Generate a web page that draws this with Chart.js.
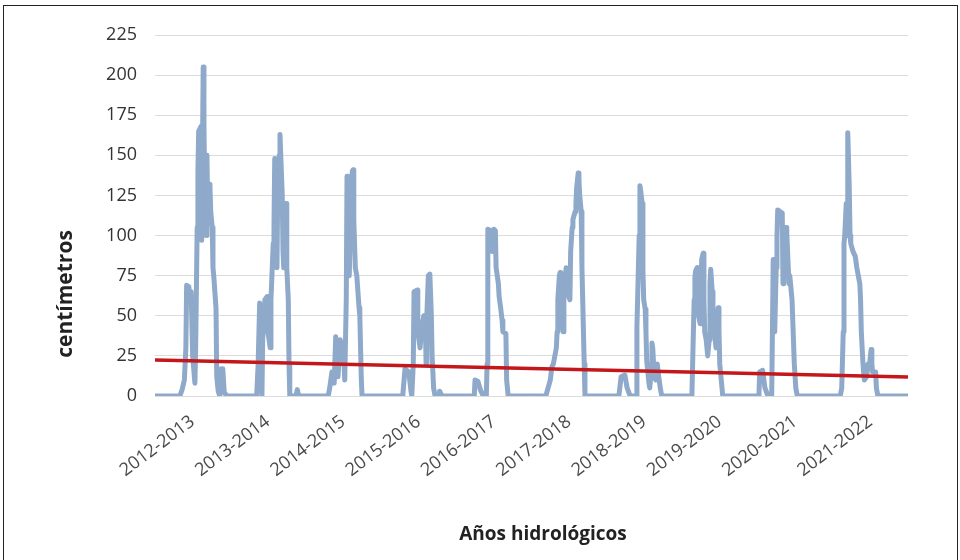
<!DOCTYPE html>
<html>
<head>
<meta charset="utf-8">
<script src="https://cdn.jsdelivr.net/npm/chart.js@4"></script>
<style>
    body { margin: 0; background: #fff; }
    #wrap { position: relative; width: 960px; height: 560px; overflow: hidden; }
    #frame {
        position: absolute; left: 3px; top: 5px; width: 953px; height: 620px;
        border: 1.5px solid #222; pointer-events: none;
    }
</style>
</head>
<body>
<div id="wrap">
    <canvas id="snowChart" width="960" height="560"></canvas>
    <div id="frame"></div>
</div>
<script>
// hydrological years (1 Oct - 30 Sep), one tick in the middle of each
const hydroYears = ['2012-2013', '2013-2014', '2014-2015', '2015-2016', '2016-2017',
    '2017-2018', '2018-2019', '2019-2020', '2020-2021', '2021-2022'];

// time in years since 1 Oct 2012
const depthYears = [
    0, 0.33, 0.36, 0.39, 0.41, 0.42, 0.45, 0.46, 0.48, 0.50, 0.53, 0.54, 0.56, 0.57, 0.58, 0.61, 0.62, 0.64, 0.65, 0.66, 0.68, 0.69, 0.70, 0.72, 0.73, 0.74, 0.76, 0.77, 0.78, 0.81, 0.82, 0.84, 0.86, 0.88, 0.90, 0.92, 0.96,
    1.35, 1.37, 1.39, 1.41, 1.42, 1.43, 1.46, 1.49, 1.50, 1.53, 1.54, 1.57, 1.58, 1.59, 1.61, 1.62, 1.63, 1.65, 1.66, 1.67, 1.69, 1.70, 1.71, 1.73, 1.74, 1.75, 1.77, 1.78, 1.79, 1.87, 1.89, 1.91,
    2.30, 2.32, 2.35, 2.38, 2.40, 2.43, 2.46, 2.48, 2.51, 2.52, 2.54, 2.55, 2.56, 2.58, 2.59, 2.62, 2.63, 2.64, 2.66, 2.68, 2.71, 2.72, 2.74, 2.75,
    3.29, 3.32, 3.37, 3.40, 3.41, 3.43, 3.44, 3.48, 3.49, 3.52, 3.55, 3.57, 3.59, 3.60, 3.61, 3.63, 3.65, 3.67, 3.68, 3.70, 3.72, 3.77, 3.78, 3.81,
    4.24, 4.25, 4.29, 4.32, 4.36, 4.40, 4.41, 4.42, 4.46, 4.48, 4.50, 4.52, 4.53, 4.56, 4.57, 4.59, 4.61, 4.62, 4.66, 4.67, 4.69,
    5.19, 5.22, 5.25, 5.27, 5.29, 5.31, 5.33, 5.34, 5.35, 5.37, 5.38, 5.39, 5.41, 5.42, 5.43, 5.46, 5.47, 5.48, 5.51, 5.52, 5.54, 5.55, 5.58, 5.59, 5.60, 5.62, 5.63, 5.64, 5.66, 5.67, 5.68, 5.70, 5.71,
    6.16, 6.19, 6.24, 6.27, 6.31, 6.39, 6.40, 6.43, 6.44, 6.45, 6.47, 6.48, 6.49, 6.51, 6.52, 6.53, 6.56, 6.57, 6.59, 6.60, 6.61, 6.63, 6.65, 6.67, 6.69, 6.71, 6.73,
    7.13, 7.14, 7.16, 7.17, 7.18, 7.20, 7.21, 7.22, 7.24, 7.25, 7.26, 7.28, 7.29, 7.30, 7.32, 7.33, 7.34, 7.36, 7.37, 7.38, 7.40, 7.41, 7.42, 7.45, 7.46, 7.48, 7.49, 7.50, 7.52, 7.54,
    8.02, 8.03, 8.07, 8.10, 8.14, 8.19, 8.21, 8.22, 8.23, 8.25, 8.26, 8.27, 8.30, 8.33, 8.34, 8.35, 8.38, 8.39, 8.41, 8.42, 8.43, 8.45, 8.46, 8.49, 8.51, 8.53,
    9.10, 9.12, 9.14, 9.15, 9.16, 9.18, 9.19, 9.20, 9.22, 9.23, 9.24, 9.27, 9.30, 9.32, 9.34, 9.36, 9.37, 9.38, 9.40, 9.41, 9.42, 9.45, 9.47, 9.49, 9.51, 9.52, 9.53, 9.57, 9.58, 9.60, 10.00,
];

// snow depth in cm
const depthCm = [
    0, 0, 4, 10, 30, 69, 68, 60, 65, 25, 8, 30, 105, 140, 165, 168, 97, 205, 170, 130, 100, 150, 115, 132, 130, 115, 105, 80, 75, 55, 12, 3, 0, 17, 17, 2, 0,
    0, 20, 58, 30, 0, 35, 60, 62, 40, 30, 60, 95, 105, 148, 120, 80, 130, 150, 163, 150, 125, 90, 80, 110, 120, 80, 60, 20, 0, 0, 4, 0,
    0, 5, 15, 8, 37, 12, 35, 30, 20, 10, 60, 137, 135, 75, 100, 140, 141, 110, 80, 75, 55, 50, 10, 0,
    0, 17, 15, 3, 0, 20, 65, 66, 40, 30, 45, 50, 48, 20, 50, 75, 76, 50, 25, 5, 0, 0, 3, 0,
    0, 10, 9, 4, 0, 0, 20, 104, 103, 90, 104, 103, 80, 70, 62, 55, 47, 40, 39, 10, 0,
    0, 5, 10, 18, 20, 25, 30, 40, 60, 75, 77, 60, 45, 40, 60, 80, 80, 65, 60, 90, 105, 110, 115, 120, 130, 139, 135, 125, 115, 80, 60, 20, 0,
    0, 12, 13, 5, 0, 0, 43, 100, 131, 128, 120, 78, 60, 54, 40, 22, 8, 5, 15, 33, 30, 12, 10, 20, 12, 5, 0,
    0, 20, 60, 74, 78, 80, 60, 50, 45, 60, 85, 89, 60, 40, 35, 30, 25, 35, 70, 79, 65, 50, 45, 30, 50, 55, 40, 20, 10, 0,
    0, 15, 16, 5, 0, 0, 85, 60, 40, 80, 100, 116, 115, 114, 70, 90, 105, 102, 80, 70, 75, 65, 60, 20, 5, 0,
    0, 5, 40, 95, 100, 120, 100, 164, 130, 100, 95, 90, 87, 80, 75, 70, 60, 40, 22, 15, 10, 12, 20, 20, 29, 20, 15, 15, 5, 0, 0,
];

// linear trend, start and end of the record
const trendYears = [0, 10];
const trendCm = [22.4, 11.8];

const yTicks = [0, 25, 50, 75, 100, 125, 150, 175, 200, 225];

const axisTitles = {
    id: 'axisTitles',
    afterDraw(chart) {
        const ctx = chart.ctx;
        ctx.save();
        ctx.fillStyle = '#222';
        ctx.textAlign = 'center';
        ctx.textBaseline = 'middle';
        ctx.font = 'bold 19px "Open Sans"';
        ctx.fillText('Años hidrológicos', 543, 535);
        ctx.translate(66, 294);
        ctx.rotate(-Math.PI / 2);
        ctx.font = 'bold 21px "Open Sans"';
        ctx.fillText('centímetros', 0, 0);
        ctx.restore();
    }
};

const depthPoints = depthYears.map((t, i) => ({ x: t, y: depthCm[i] }));
const trendPoints = trendYears.map((t, i) => ({ x: t, y: trendCm[i] }));

const snowCtx = document.getElementById('snowChart').getContext('2d');

new Chart(snowCtx, {
    type: 'line',
    data: {
        datasets: [
            {
                label: 'Tendencia',
                data: trendPoints,
                borderColor: '#c3171b',
                borderWidth: 3.5,
                pointRadius: 0,
                tension: 0,
            },
            {
                label: 'Espesor de nieve',
                data: depthPoints,
                borderColor: '#8ea9c9',
                borderWidth: 5,
                borderJoinStyle: 'round',
                pointRadius: 0,
                tension: 0,
            },
        ],
    },
    options: {
        responsive: false,
        animation: false,
        layout: {
            padding: { top: 35, right: 52, bottom: 0, left: 0 },
        },
        scales: {
            x: {
                type: 'linear',
                min: 0,
                max: 10,
                afterBuildTicks: (scale) => {
                    scale.ticks = hydroYears.map((_, i) => ({ value: i + 0.5 }));
                },
                afterFit: (scale) => { scale.height = 164; },
                grid: { display: false },
                border: { display: false },
                ticks: {
                    autoSkip: false,
                    minRotation: 37,
                    maxRotation: 37,
                    padding: 7,
                    color: '#4a4a4a',
                    font: { family: 'Open Sans', size: 18 },
                    callback: (value) => hydroYears[Math.floor(value)],
                },
            },
            y: {
                min: 0,
                max: 225,
                afterBuildTicks: (scale) => {
                    scale.ticks = yTicks.map((v) => ({ value: v }));
                },
                afterFit: (scale) => { scale.width = 155; },
                grid: {
                    color: '#dcdcdc',
                    lineWidth: 1,
                    drawTicks: false,
                },
                border: { display: false },
                ticks: {
                    padding: 18,
                    color: '#333',
                    font: { family: 'Open Sans', size: 18 },
                },
            },
        },
        plugins: {
            legend: { display: false },
            tooltip: { enabled: false },
        },
    },
    plugins: [axisTitles],
});
</script>
</body>
</html>
